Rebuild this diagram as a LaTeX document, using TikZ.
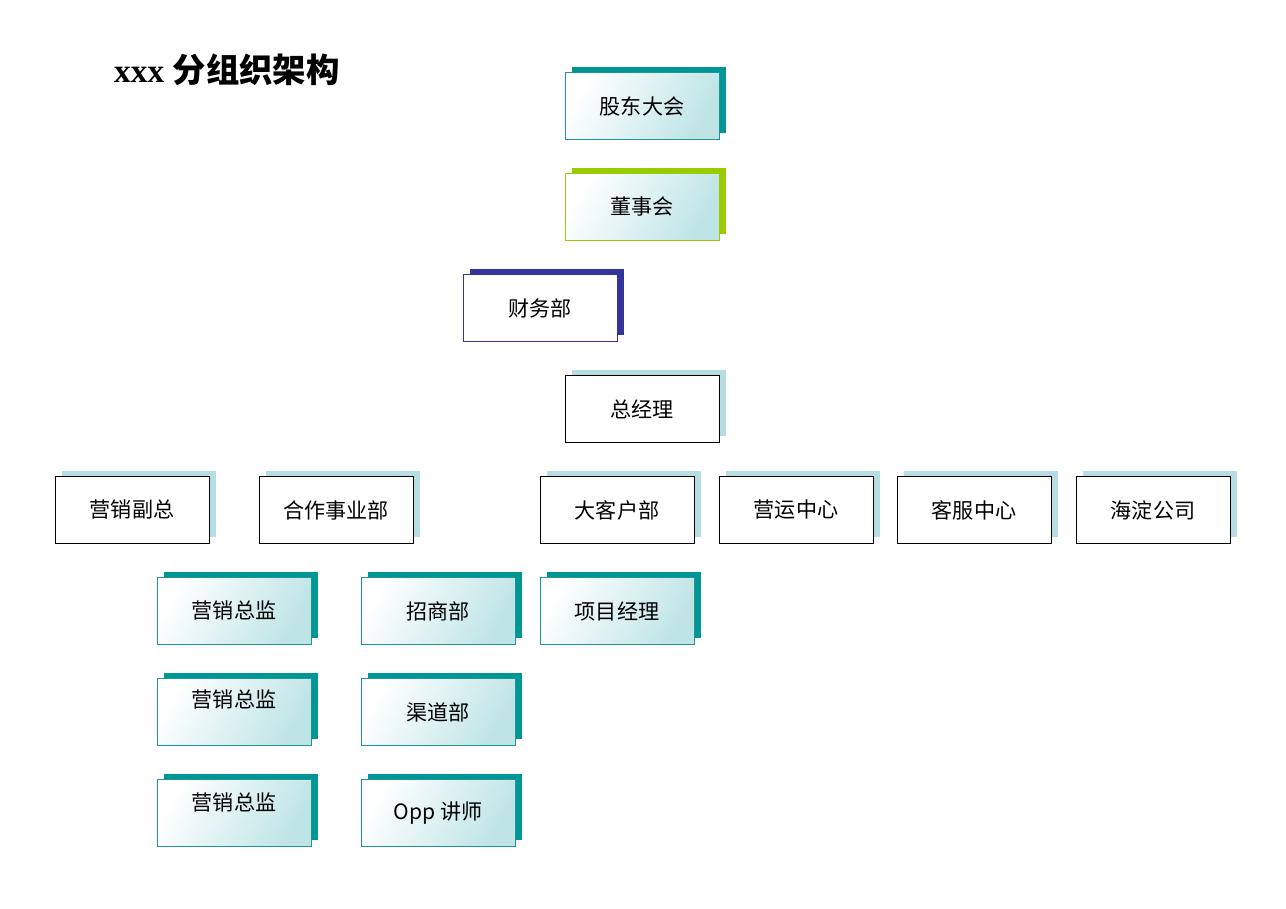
\documentclass[tikz,border=0pt]{standalone}
\usepackage{fontspec}
\setmainfont{Liberation Serif}
\newfontfamily\cjk{Noto Sans CJK SC}
\usetikzlibrary{shadows}
\definecolor{tealdk}{RGB}{0,150,150}
\definecolor{tealbd}{RGB}{30,150,150}
\definecolor{tealbg}{RGB}{190,228,230}
\definecolor{greenbx}{RGB}{153,204,0}
\definecolor{bluebx}{RGB}{51,51,153}
\definecolor{paleshd}{RGB}{182,222,226}
\begin{document}
\begin{tikzpicture}[x=0.02cm, y=-0.02cm,
    box/.style={minimum width=3.08cm, minimum height=1.34cm, inner sep=0pt,
        font=\cjk\fontsize{12}{14}\selectfont},
    tealbox/.style={box, draw=tealbd, left color=white, right color=tealbg,
        shading angle=60,
        general shadow={fill=tealdk, shadow xshift=0.14cm, shadow yshift=0.12cm}},
    greenbox/.style={box, draw=greenbx, left color=white, right color=tealbg,
        shading angle=60,
        general shadow={fill=greenbx, shadow xshift=0.14cm, shadow yshift=0.12cm}},
    bluebox/.style={box, draw=bluebx, fill=white,
        general shadow={fill=bluebx, shadow xshift=0.14cm, shadow yshift=0.12cm}},
    plainbox/.style={box, draw=black, fill=white,
        general shadow={fill=paleshd, shadow xshift=0.14cm, shadow yshift=0.12cm}}]
  \useasboundingbox (0,0) rectangle (1286,909);
  % title
  \node[anchor=west, font=\bfseries\fontsize{19}{22}\selectfont] (title) at (108,70)
      {xxx {\cjk 分组织架构}};
  % top chain
  \node[tealbox] (gudong) at (642,106) {股东大会};
  \node[greenbox] (dongshi) at (642,207) {董事会};
  \node[bluebox] (caiwu) at (540,308) {财务部};
  \node[plainbox] (zongjingli) at (642,409) {总经理};
  % department row
  \node[plainbox] (yxfz) at (132,510) {营销副总};
  \node[plainbox] (hezuo) at (336,510) {合作事业部};
  \node[plainbox] (dakehu) at (617,510) {大客户部};
  \node[plainbox] (yingyun) at (796,510) {营运中心};
  \node[plainbox] (kefu) at (974,510) {客服中心};
  \node[plainbox] (haidian) at (1153,510) {海淀公司};
  % sub units
  \node[tealbox] (zj1) at (234,611) {营销总监};
  \node[tealbox] (zhaoshang) at (438,611) {招商部};
  \node[tealbox] (xiangmu) at (617,611) {项目经理};
  \node[tealbox, text depth=0.55cm] (zj2) at (234,712) {营销总监};
  \node[tealbox] (qudao) at (438,712) {渠道部};
  \node[tealbox, text depth=0.45cm] (zj3) at (234,813) {营销总监};
  \node[tealbox] (jiangshi) at (438,813) {Opp {\cjk 讲师}};
\end{tikzpicture}
\end{document}
